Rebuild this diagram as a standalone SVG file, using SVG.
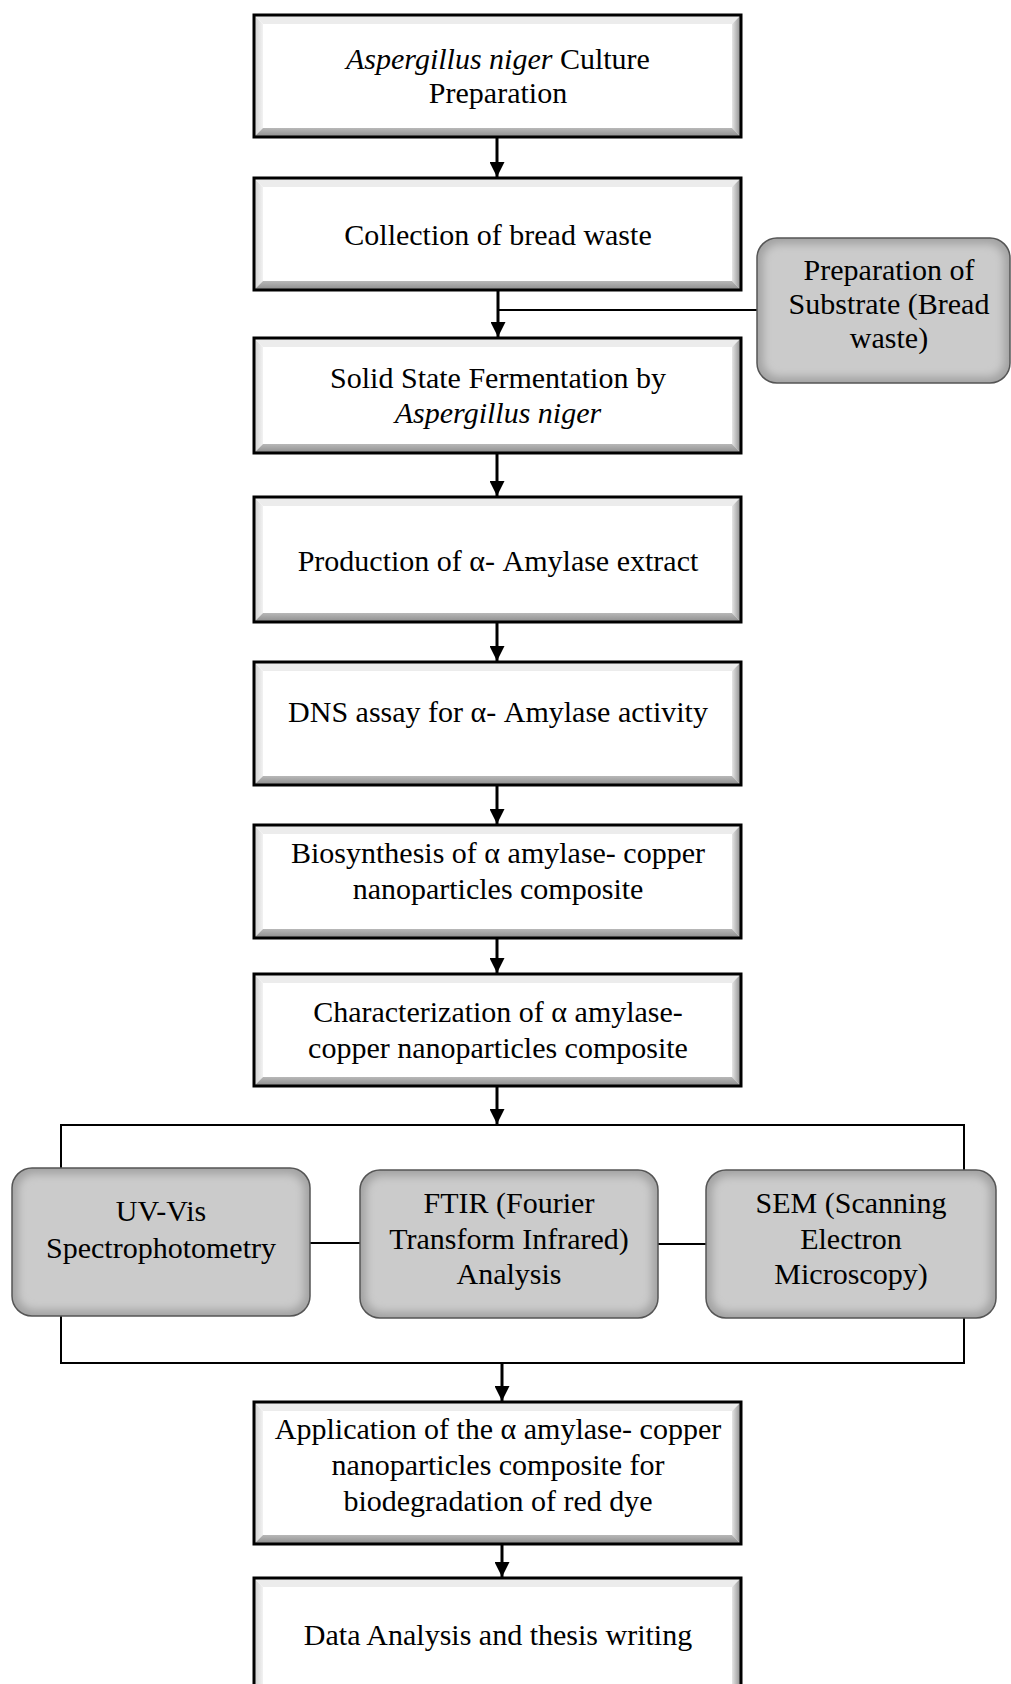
<svg xmlns="http://www.w3.org/2000/svg" width="1011" height="1684" viewBox="0 0 1011 1684">
<defs>
<style>
.t{font-family:"Liberation Serif","Times New Roman",Times,serif;font-size:30px;fill:#000;text-anchor:middle}
.i{font-style:italic}
.face{fill:#fff}
.frame{fill:none;stroke:#000;stroke-width:3}
.bl{fill:url(#gl)}
.bt{fill:#ececec}
.br{fill:url(#gr)}
.bb{fill:url(#gb)}
.conn{stroke:#000;stroke-width:2;fill:none}
.arr{stroke:#000;stroke-width:3;fill:none}
.gbase{fill:#a2a2a2}
.ginner{fill:#cbcbcb;filter:url(#blur)}
.gframe{fill:none;stroke:#555;stroke-width:1.5}
</style>
<linearGradient id="gl" x1="0" y1="0" x2="1" y2="0"><stop offset="0" stop-color="#cfcfcf"/><stop offset="1" stop-color="#f2f2f2"/></linearGradient>
<linearGradient id="gr" x1="0" y1="0" x2="1" y2="0"><stop offset="0" stop-color="#e6e6e6"/><stop offset="1" stop-color="#8a8a8a"/></linearGradient>
<linearGradient id="gb" x1="0" y1="0" x2="0" y2="1"><stop offset="0" stop-color="#b8b8b8"/><stop offset="1" stop-color="#8c8c8c"/></linearGradient>
<filter id="blur" x="-10%" y="-10%" width="120%" height="120%"><feGaussianBlur stdDeviation="4"/></filter>
<marker id="ah" markerWidth="5" markerHeight="5" refX="5" refY="2.5" orient="auto" markerUnits="strokeWidth"><path d="M0,0 L5,2.5 L0,5 z" fill="#000"/></marker>
<clipPath id="c1"><rect x="757" y="238" width="253" height="145" rx="20"/></clipPath>
<clipPath id="c2"><rect x="12" y="1168" width="298" height="148" rx="20"/></clipPath>
<clipPath id="c3"><rect x="360" y="1170" width="298" height="148" rx="20"/></clipPath>
<clipPath id="c4"><rect x="706" y="1170" width="290" height="148" rx="20"/></clipPath>
</defs>

<g id="connectors">
<line class="arr" x1="497" y1="137" x2="497" y2="177" marker-end="url(#ah)"/>
<line class="arr" x1="498" y1="290" x2="498" y2="337" marker-end="url(#ah)"/>
<line class="conn" x1="498" y1="310" x2="757" y2="310" stroke-width="1.5"/>
<line class="arr" x1="497" y1="453" x2="497" y2="496" marker-end="url(#ah)"/>
<line class="arr" x1="497" y1="622" x2="497" y2="661" marker-end="url(#ah)"/>
<line class="arr" x1="497" y1="785" x2="497" y2="824" marker-end="url(#ah)"/>
<line class="arr" x1="497" y1="938" x2="497" y2="973" marker-end="url(#ah)"/>
<line class="arr" x1="497" y1="1086" x2="497" y2="1124" marker-end="url(#ah)"/>
<polyline class="conn" points="61,1168 61,1125 964,1125 964,1170"/>
<polyline class="conn" points="61,1316 61,1363 964,1363 964,1318"/>
<line class="conn" x1="310" y1="1243" x2="360" y2="1243"/>
<line class="conn" x1="658" y1="1244" x2="706" y2="1244"/>
<line class="arr" x1="502" y1="1363" x2="502" y2="1401" marker-end="url(#ah)"/>
<line class="arr" x1="502" y1="1544" x2="502" y2="1577" marker-end="url(#ah)"/>
</g>

<g id="n1">
<rect class="face" x="254" y="15" width="487" height="122"/>
<path class="bl" d="M254,15 L263,24 L263,128 L254,137 Z"/>
<path class="bt" d="M254,15 L741,15 L732,24 L263,24 Z"/>
<path class="br" d="M741,15 L741,137 L732,128 L732,24 Z"/>
<path class="bb" d="M254,137 L741,137 L732,128 L263,128 Z"/>
<rect class="frame" x="254" y="15" width="487" height="122"/>
<text class="t" x="498" y="69"><tspan class="i">Aspergillus niger</tspan> Culture</text>
<text class="t" x="498" y="103">Preparation</text>
</g>

<g id="n2">
<rect class="face" x="254" y="178" width="487" height="112"/>
<path class="bl" d="M254,178 L263,187 L263,281 L254,290 Z"/>
<path class="bt" d="M254,178 L741,178 L732,187 L263,187 Z"/>
<path class="br" d="M741,178 L741,290 L732,281 L732,187 Z"/>
<path class="bb" d="M254,290 L741,290 L732,281 L263,281 Z"/>
<rect class="frame" x="254" y="178" width="487" height="112"/>
<text class="t" x="498" y="245">Collection of bread waste</text>
</g>

<g id="n3">
<rect class="face" x="254" y="338" width="487" height="115"/>
<path class="bl" d="M254,338 L263,347 L263,444 L254,453 Z"/>
<path class="bt" d="M254,338 L741,338 L732,347 L263,347 Z"/>
<path class="br" d="M741,338 L741,453 L732,444 L732,347 Z"/>
<path class="bb" d="M254,453 L741,453 L732,444 L263,444 Z"/>
<rect class="frame" x="254" y="338" width="487" height="115"/>
<text class="t" x="498" y="388">Solid State Fermentation by</text>
<text class="t i" x="498" y="423">Aspergillus niger</text>
</g>

<g id="side">
<g clip-path="url(#c1)">
<rect class="gbase" x="757" y="238" width="253" height="145"/>
<rect class="ginner" x="763" y="244" width="241" height="133" rx="16"/>
</g>
<rect class="gframe" x="757" y="238" width="253" height="145" rx="20"/>
<text class="t" x="889" y="280">Preparation of</text>
<text class="t" x="889" y="314">Substrate (Bread</text>
<text class="t" x="889" y="348">waste)</text>
</g>

<g id="n4">
<rect class="face" x="254" y="497" width="487" height="125"/>
<path class="bl" d="M254,497 L263,506 L263,613 L254,622 Z"/>
<path class="bt" d="M254,497 L741,497 L732,506 L263,506 Z"/>
<path class="br" d="M741,497 L741,622 L732,613 L732,506 Z"/>
<path class="bb" d="M254,622 L741,622 L732,613 L263,613 Z"/>
<rect class="frame" x="254" y="497" width="487" height="125"/>
<text class="t" x="498" y="571">Production of α- Amylase extract</text>
</g>

<g id="n5">
<rect class="face" x="254" y="662" width="487" height="123"/>
<path class="bl" d="M254,662 L263,671 L263,776 L254,785 Z"/>
<path class="bt" d="M254,662 L741,662 L732,671 L263,671 Z"/>
<path class="br" d="M741,662 L741,785 L732,776 L732,671 Z"/>
<path class="bb" d="M254,785 L741,785 L732,776 L263,776 Z"/>
<rect class="frame" x="254" y="662" width="487" height="123"/>
<text class="t" x="498" y="722">DNS assay for α- Amylase activity</text>
</g>

<g id="n6">
<rect class="face" x="254" y="825" width="487" height="113"/>
<path class="bl" d="M254,825 L263,834 L263,929 L254,938 Z"/>
<path class="bt" d="M254,825 L741,825 L732,834 L263,834 Z"/>
<path class="br" d="M741,825 L741,938 L732,929 L732,834 Z"/>
<path class="bb" d="M254,938 L741,938 L732,929 L263,929 Z"/>
<rect class="frame" x="254" y="825" width="487" height="113"/>
<text class="t" x="498" y="863">Biosynthesis of α amylase- copper</text>
<text class="t" x="498" y="899">nanoparticles composite</text>
</g>

<g id="n7">
<rect class="face" x="254" y="974" width="487" height="112"/>
<path class="bl" d="M254,974 L263,983 L263,1077 L254,1086 Z"/>
<path class="bt" d="M254,974 L741,974 L732,983 L263,983 Z"/>
<path class="br" d="M741,974 L741,1086 L732,1077 L732,983 Z"/>
<path class="bb" d="M254,1086 L741,1086 L732,1077 L263,1077 Z"/>
<rect class="frame" x="254" y="974" width="487" height="112"/>
<text class="t" x="498" y="1022">Characterization of α amylase-</text>
<text class="t" x="498" y="1058">copper nanoparticles composite</text>
</g>

<g id="uvvis">
<g clip-path="url(#c2)">
<rect class="gbase" x="12" y="1168" width="298" height="148"/>
<rect class="ginner" x="18" y="1174" width="286" height="136" rx="16"/>
</g>
<rect class="gframe" x="12" y="1168" width="298" height="148" rx="20"/>
<text class="t" x="161" y="1221">UV-Vis</text>
<text class="t" x="161" y="1258">Spectrophotometry</text>
</g>

<g id="ftir">
<g clip-path="url(#c3)">
<rect class="gbase" x="360" y="1170" width="298" height="148"/>
<rect class="ginner" x="366" y="1176" width="286" height="136" rx="16"/>
</g>
<rect class="gframe" x="360" y="1170" width="298" height="148" rx="20"/>
<text class="t" x="509" y="1213">FTIR (Fourier</text>
<text class="t" x="509" y="1249">Transform Infrared)</text>
<text class="t" x="509" y="1284">Analysis</text>
</g>

<g id="sem">
<g clip-path="url(#c4)">
<rect class="gbase" x="706" y="1170" width="290" height="148"/>
<rect class="ginner" x="712" y="1176" width="278" height="136" rx="16"/>
</g>
<rect class="gframe" x="706" y="1170" width="290" height="148" rx="20"/>
<text class="t" x="851" y="1213">SEM (Scanning</text>
<text class="t" x="851" y="1249">Electron</text>
<text class="t" x="851" y="1284">Microscopy)</text>
</g>

<g id="n8">
<rect class="face" x="254" y="1402" width="487" height="142"/>
<path class="bl" d="M254,1402 L263,1411 L263,1535 L254,1544 Z"/>
<path class="bt" d="M254,1402 L741,1402 L732,1411 L263,1411 Z"/>
<path class="br" d="M741,1402 L741,1544 L732,1535 L732,1411 Z"/>
<path class="bb" d="M254,1544 L741,1544 L732,1535 L263,1535 Z"/>
<rect class="frame" x="254" y="1402" width="487" height="142"/>
<text class="t" x="498" y="1439">Application of the α amylase- copper</text>
<text class="t" x="498" y="1475">nanoparticles composite for</text>
<text class="t" x="498" y="1511">biodegradation of red dye</text>
</g>

<g id="n9">
<rect class="face" x="254" y="1578" width="487" height="120"/>
<path class="bl" d="M254,1578 L263,1587 L263,1689 L254,1698 Z"/>
<path class="bt" d="M254,1578 L741,1578 L732,1587 L263,1587 Z"/>
<path class="br" d="M741,1578 L741,1698 L732,1689 L732,1587 Z"/>
<path class="bb" d="M254,1698 L741,1698 L732,1689 L263,1689 Z"/>
<rect class="frame" x="254" y="1578" width="487" height="120"/>
<text class="t" x="498" y="1645">Data Analysis and thesis writing</text>
</g>
</svg>
